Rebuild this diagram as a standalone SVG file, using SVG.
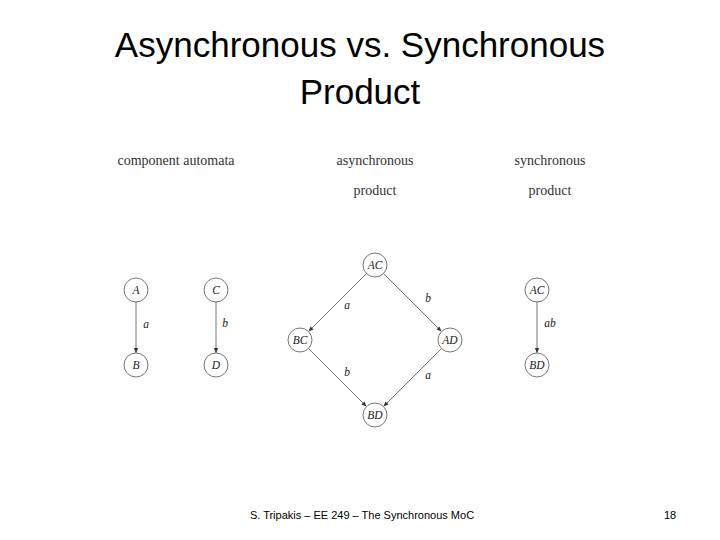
<svg xmlns="http://www.w3.org/2000/svg" width="720" height="540" viewBox="0 0 720 540">
<style>
.t{font-family:"Liberation Sans","Open Sans",sans-serif;fill:#000}
.h{font-family:"Liberation Serif",serif;font-size:14px;fill:#333;text-anchor:middle}
.n circle{fill:#fff;stroke:#777;stroke-width:1}
.n text{font-family:"Liberation Serif",serif;font-style:italic;font-size:11.5px;fill:#222;text-anchor:middle}
.e line{stroke:#777;stroke-width:1;marker-end:url(#ar)}
.l{font-family:"Liberation Serif",serif;font-style:italic;font-size:11.5px;fill:#222;text-anchor:middle}
</style>
<defs><marker id="ar" markerWidth="6" markerHeight="6" refX="5" refY="3" orient="auto" markerUnits="userSpaceOnUse"><path d="M0,0.8 L5,3 L0,5.2 Z" fill="#333"/></marker></defs>
<rect width="720" height="540" fill="#fff"/>
<text class="t" x="360" y="57" font-size="35" text-anchor="middle">Asynchronous vs. Synchronous</text>
<text class="t" x="360" y="104" font-size="35" text-anchor="middle">Product</text>
<text class="h" x="176" y="165">component automata</text>
<text class="h" x="375" y="165">asynchronous</text>
<text class="h" x="375" y="195">product</text>
<text class="h" x="550" y="165">synchronous</text>
<text class="h" x="550" y="195">product</text>
<g id="edges" class="e">
<line x1="136" y1="302" x2="136" y2="353"/>
<line x1="216" y1="302" x2="216" y2="353"/>
<line x1="366.5" y1="273.5" x2="308.5" y2="331.5"/>
<line x1="383.5" y1="273.5" x2="441.5" y2="331.5"/>
<line x1="308.5" y1="348.5" x2="366.5" y2="406.5"/>
<line x1="441.5" y1="348.5" x2="383.5" y2="406.5"/>
<line x1="537" y1="302" x2="537" y2="353"/>
</g>
<g id="labels">
<text class="l" x="146" y="328">a</text>
<text class="l" x="225" y="327">b</text>
<text class="l" x="347" y="309">a</text>
<text class="l" x="428" y="302">b</text>
<text class="l" x="347" y="376">b</text>
<text class="l" x="428" y="379">a</text>
<text class="l" x="550" y="327">ab</text>
</g>
<g id="A" class="n"><circle cx="136" cy="290" r="12"/><text x="136" y="294">A</text></g>
<g id="B" class="n"><circle cx="136" cy="365" r="12"/><text x="136" y="369">B</text></g>
<g id="C" class="n"><circle cx="216" cy="290" r="12"/><text x="216" y="294">C</text></g>
<g id="D" class="n"><circle cx="216" cy="365" r="12"/><text x="216" y="369">D</text></g>
<g id="AC" class="n"><circle cx="375" cy="265" r="12"/><text x="375" y="269">AC</text></g>
<g id="BC" class="n"><circle cx="300" cy="340" r="12"/><text x="300" y="344">BC</text></g>
<g id="AD" class="n"><circle cx="450" cy="340" r="12"/><text x="450" y="344">AD</text></g>
<g id="BD" class="n"><circle cx="375" cy="415" r="12"/><text x="375" y="419">BD</text></g>
<g id="sAC" class="n"><circle cx="537" cy="290" r="12"/><text x="537" y="294">AC</text></g>
<g id="sBD" class="n"><circle cx="537" cy="365" r="12"/><text x="537" y="369">BD</text></g>
<text class="t" x="362" y="519" font-size="11" text-anchor="middle" fill="#333">S. Tripakis – EE 249 – The Synchronous MoC</text>
<text class="t" x="670" y="519" font-size="11" text-anchor="middle" fill="#333">18</text>
</svg>
